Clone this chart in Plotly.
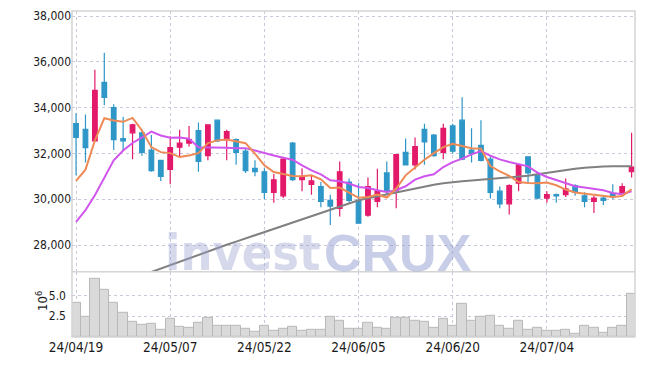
import plotly.graph_objects as go

dates = ["24/04/19", "24/04/22", "24/04/23", "24/04/24", "24/04/25", "24/04/26", "24/04/29", "24/04/30",
         "24/05/02", "24/05/03", "24/05/07", "24/05/08", "24/05/09", "24/05/10", "24/05/13", "24/05/14",
         "24/05/16", "24/05/17", "24/05/20", "24/05/21", "24/05/22", "24/05/23", "24/05/24", "24/05/27",
         "24/05/28", "24/05/29", "24/05/30", "24/05/31", "24/06/03", "24/06/04", "24/06/05", "24/06/07",
         "24/06/10", "24/06/11", "24/06/12", "24/06/13", "24/06/14", "24/06/17", "24/06/18", "24/06/19",
         "24/06/20", "24/06/21", "24/06/24", "24/06/25", "24/06/26", "24/06/27", "24/06/28", "24/07/01",
         "24/07/02", "24/07/03", "24/07/04", "24/07/05", "24/07/08", "24/07/09", "24/07/10", "24/07/11",
         "24/07/12", "24/07/15", "24/07/16", "24/07/17"]

open_ = [33300, 33050, 32550, 35100, 34000, 32650, 32900, 32900, 32150, 31700,
         31300, 32270, 32450, 33000, 31900, 33450, 32600, 32600, 32100, 31350,
         31200, 30300, 30150, 32450, 30850, 30650, 30550, 29950, 29600, 30750,
         29950, 29300, 29900, 31150, 30400, 32050, 31500, 33050, 32800, 32050,
         33200, 33450, 32150, 32350, 31750, 30350, 29800, 30700, 31850, 31050,
         30050, 30200, 30200, 30600, 30150, 29900, 30050, 30250, 30300, 31200]
high = [33750, 33700, 35650, 36400, 34150, 33600, 33300, 33050, 32800, 31700,
        32750, 33030, 33200, 33350, 33250, 33450, 33030, 32650, 32200, 31700,
        31350, 31100, 31850, 32500, 31350, 31050, 30750, 30200, 31650, 30900,
        30700, 30950, 31330, 31650, 31950, 32650, 32700, 33300, 32850, 33300,
        33300, 34450, 33100, 33450, 31900, 30550, 30650, 31550, 31850, 31200,
        30350, 30250, 30900, 30650, 30300, 30150, 30150, 30650, 30700, 32900]
low = [31050, 31600, 32500, 34100, 32150, 32150, 31750, 31900, 31200, 30800,
       30650, 31850, 32300, 31200, 31700, 32500, 31700, 31500, 31150, 31000,
       30000, 29850, 30050, 30800, 30350, 30200, 29650, 28870, 29250, 29850,
       28950, 29230, 29650, 30200, 29600, 31500, 31300, 31500, 31850, 31750,
       32000, 31700, 31600, 31650, 30030, 29600, 29330, 30350, 30700, 30000,
       29850, 29850, 30100, 30150, 29650, 29400, 29750, 30000, 30250, 30950]
close = [32700, 32250, 34750, 34450, 32600, 32550, 33250, 32050, 31250, 31000,
         32250, 32450, 32600, 31650, 33250, 32550, 32950, 32050, 31250, 31200,
         30300, 30850, 31750, 30850, 30950, 30800, 29900, 29700, 31200, 29950,
         28950, 30550, 30350, 30350, 31950, 31500, 32300, 32500, 31900, 33100,
         32100, 31750, 32000, 31700, 30300, 29800, 30600, 31500, 31150, 30050,
         30200, 30150, 30450, 30300, 29900, 30050, 29950, 30100, 30550, 31400]

ma_short = [30800, 31290, 32565, 33535, 33435, 33380, 33550, 33000, 32275, 32057,
            32013, 31840, 31913, 32013, 32448, 32570, 32609, 32522, 32448, 31987,
            31478, 31187, 31087, 31013, 31000, 31043, 30870, 30491, 30509, 30274,
            30060, 30100, 30204, 30074, 30465, 31043, 31378, 31726, 32013, 32274,
            32422, 32335, 32230, 32204, 31450, 31217, 31020, 30752, 30709, 30700,
            30726, 30609, 30422, 30291, 30248, 30217, 30143, 30100, 30143, 30435]
ma_mid = [29013, 29522, 30174, 30957, 31696, 32130, 32457, 32696, 32950, 32783,
          32683, 32696, 32639, 32274, 32274, 32274, 32248, 32230, 32230, 32130,
          32013, 31913, 31813, 31726, 31478, 31261, 31087, 30826, 30783, 30683,
          30535, 30491, 30391, 30317, 30391, 30565, 30857, 31000, 31087, 31404,
          31622, 31770, 31957, 32100, 31900, 31739, 31622, 31522, 31435, 31160,
          30970, 30840, 30709, 30565, 30509, 30465, 30391, 30274, 30217, 30348]
ma_long = [None, None, None, None, None, None, None, 26674, 26826, 26974,
           27130, 27283, 27435, 27583, 27730, 27870, 28009, 28148, 28287, 28426,
           28565, 28704, 28843, 28983, 29122, 29261, 29400, 29539, 29678, 29817,
           29957, 30043, 30130, 30217, 30304, 30391, 30478, 30565, 30630, 30696,
           30752, 30783, 30813, 30843, 30874, 30904, 30935, 30965, 31022, 31087,
           31152, 31217, 31274, 31326, 31378, 31413, 31426, 31435, 31443, 31435]

volume = [4170000, 2450000, 7020000, 5630000, 4170000, 2860000, 1790000, 1460000, 1550000, 870000,
          2140000, 1230000, 1070000, 1670000, 2260000, 1350000, 1350000, 1350000, 990000, 600000,
          1350000, 750000, 990000, 1230000, 750000, 830000, 830000, 2450000, 1940000, 990000,
          990000, 1670000, 1070000, 990000, 2260000, 2260000, 1940000, 1790000, 1070000, 2140000,
          1350000, 4050000, 1940000, 2380000, 2500000, 1350000, 990000, 1940000, 830000, 1070000,
          750000, 750000, 830000, 360000, 1350000, 1070000, 480000, 1070000, 1350000, 5240000]

price_ticks = [28000, 30000, 32000, 34000, 36000, 38000]
vol_ticks = [2500000, 5000000]
vol_tick_text = ["2.5", "5.0"]
date_ticks = dates[::10]

UP = "#E3196A"
DOWN = "#2E97C8"
GRID = "#c9c9dc"
FAM = "DejaVu Sans Condensed, Liberation Sans Narrow, sans-serif"
TICKFONT = dict(family=FAM, size=12, color="#1a1a1a")

fig = go.Figure()

fig.add_trace(go.Bar(
    x=dates, y=volume, xaxis="x", yaxis="y2", width=1,
    marker=dict(color="#dadada", line=dict(color="#b8b8b8", width=1)),
    hoverinfo="skip",
))

fig.add_trace(go.Candlestick(
    x=dates, open=open_, high=high, low=low, close=close, xaxis="x", yaxis="y",
    increasing=dict(line=dict(color=UP, width=1.2), fillcolor=UP),
    decreasing=dict(line=dict(color=DOWN, width=1.2), fillcolor=DOWN),
    whiskerwidth=0,
))

fig.add_trace(go.Scatter(x=dates, y=ma_long, mode="lines", line=dict(color="#808080", width=2),
                         xaxis="x", yaxis="y", connectgaps=False))
fig.add_trace(go.Scatter(x=dates, y=ma_mid, mode="lines", line=dict(color="#CF55EC", width=2),
                         xaxis="x", yaxis="y"))
fig.add_trace(go.Scatter(x=dates, y=ma_short, mode="lines", line=dict(color="#EE8A55", width=2),
                         xaxis="x", yaxis="y"))

fig.update_layout(
    width=645, height=366,
    margin=dict(l=72, r=10, t=9, b=29),
    paper_bgcolor="white", plot_bgcolor="white",
    showlegend=False,
    bargap=0,
    xaxis=dict(
        type="category", range=[-0.43, 59.36], anchor="y2",
        tickmode="array", tickvals=date_ticks, ticktext=date_ticks,
        showgrid=True, gridcolor=GRID, griddash="dot", gridwidth=1,
        ticks="", tickfont=dict(family=FAM, size=13.5, color="#1a1a1a"),
        rangeslider=dict(visible=False), showline=False, zeroline=False,
    ),
    yaxis=dict(
        domain=[0.2, 1], range=[26830, 38220],
        tickmode="array", tickvals=price_ticks, tickformat=",",
        showgrid=True, gridcolor=GRID, griddash="dot", gridwidth=1,
        ticks="", tickfont=TICKFONT, zeroline=False, showline=False,
    ),
    yaxis2=dict(
        domain=[0, 0.2], range=[0, 7850000], anchor="x",
        tickmode="array", tickvals=vol_ticks, ticktext=vol_tick_text,
        showgrid=True, gridcolor=GRID, griddash="dot", gridwidth=1,
        ticks="", tickfont=TICKFONT, zeroline=False, showline=False,
        ticklabelstandoff=5,
    ),
    shapes=[
        dict(type="rect", xref="paper", yref="paper", x0=0, x1=1, y0=0, y1=1,
             line=dict(color="#d4d4d4", width=1.5)),
        dict(type="line", xref="paper", yref="paper", x0=0, x1=1, y0=0.2, y1=0.2,
             line=dict(color="#d4d4d4", width=1.5)),
    ],
    annotations=[
        dict(text="invest", xref="paper", yref="paper", x=0.446, y=0.163, xanchor="right", yanchor="bottom",
             showarrow=False, font=dict(family=FAM, size=50, color="rgba(150,160,205,0.40)", weight="bold")),
        dict(text="CRUX", xref="paper", yref="paper", x=0.444, y=0.163, xanchor="left", yanchor="bottom",
             showarrow=False, font=dict(family="Liberation Sans, Arial, sans-serif",
                                        size=52, color="rgba(140,152,205,0.48)", weight="bold")),
        dict(text="10<sup>6</sup>", xref="paper", yref="paper", x=-0.072, y=0.075, textangle=-90,
             showarrow=False, font=dict(family=FAM, size=13, color="#1a1a1a")),
    ],
)

fig.write_html("out.html")
